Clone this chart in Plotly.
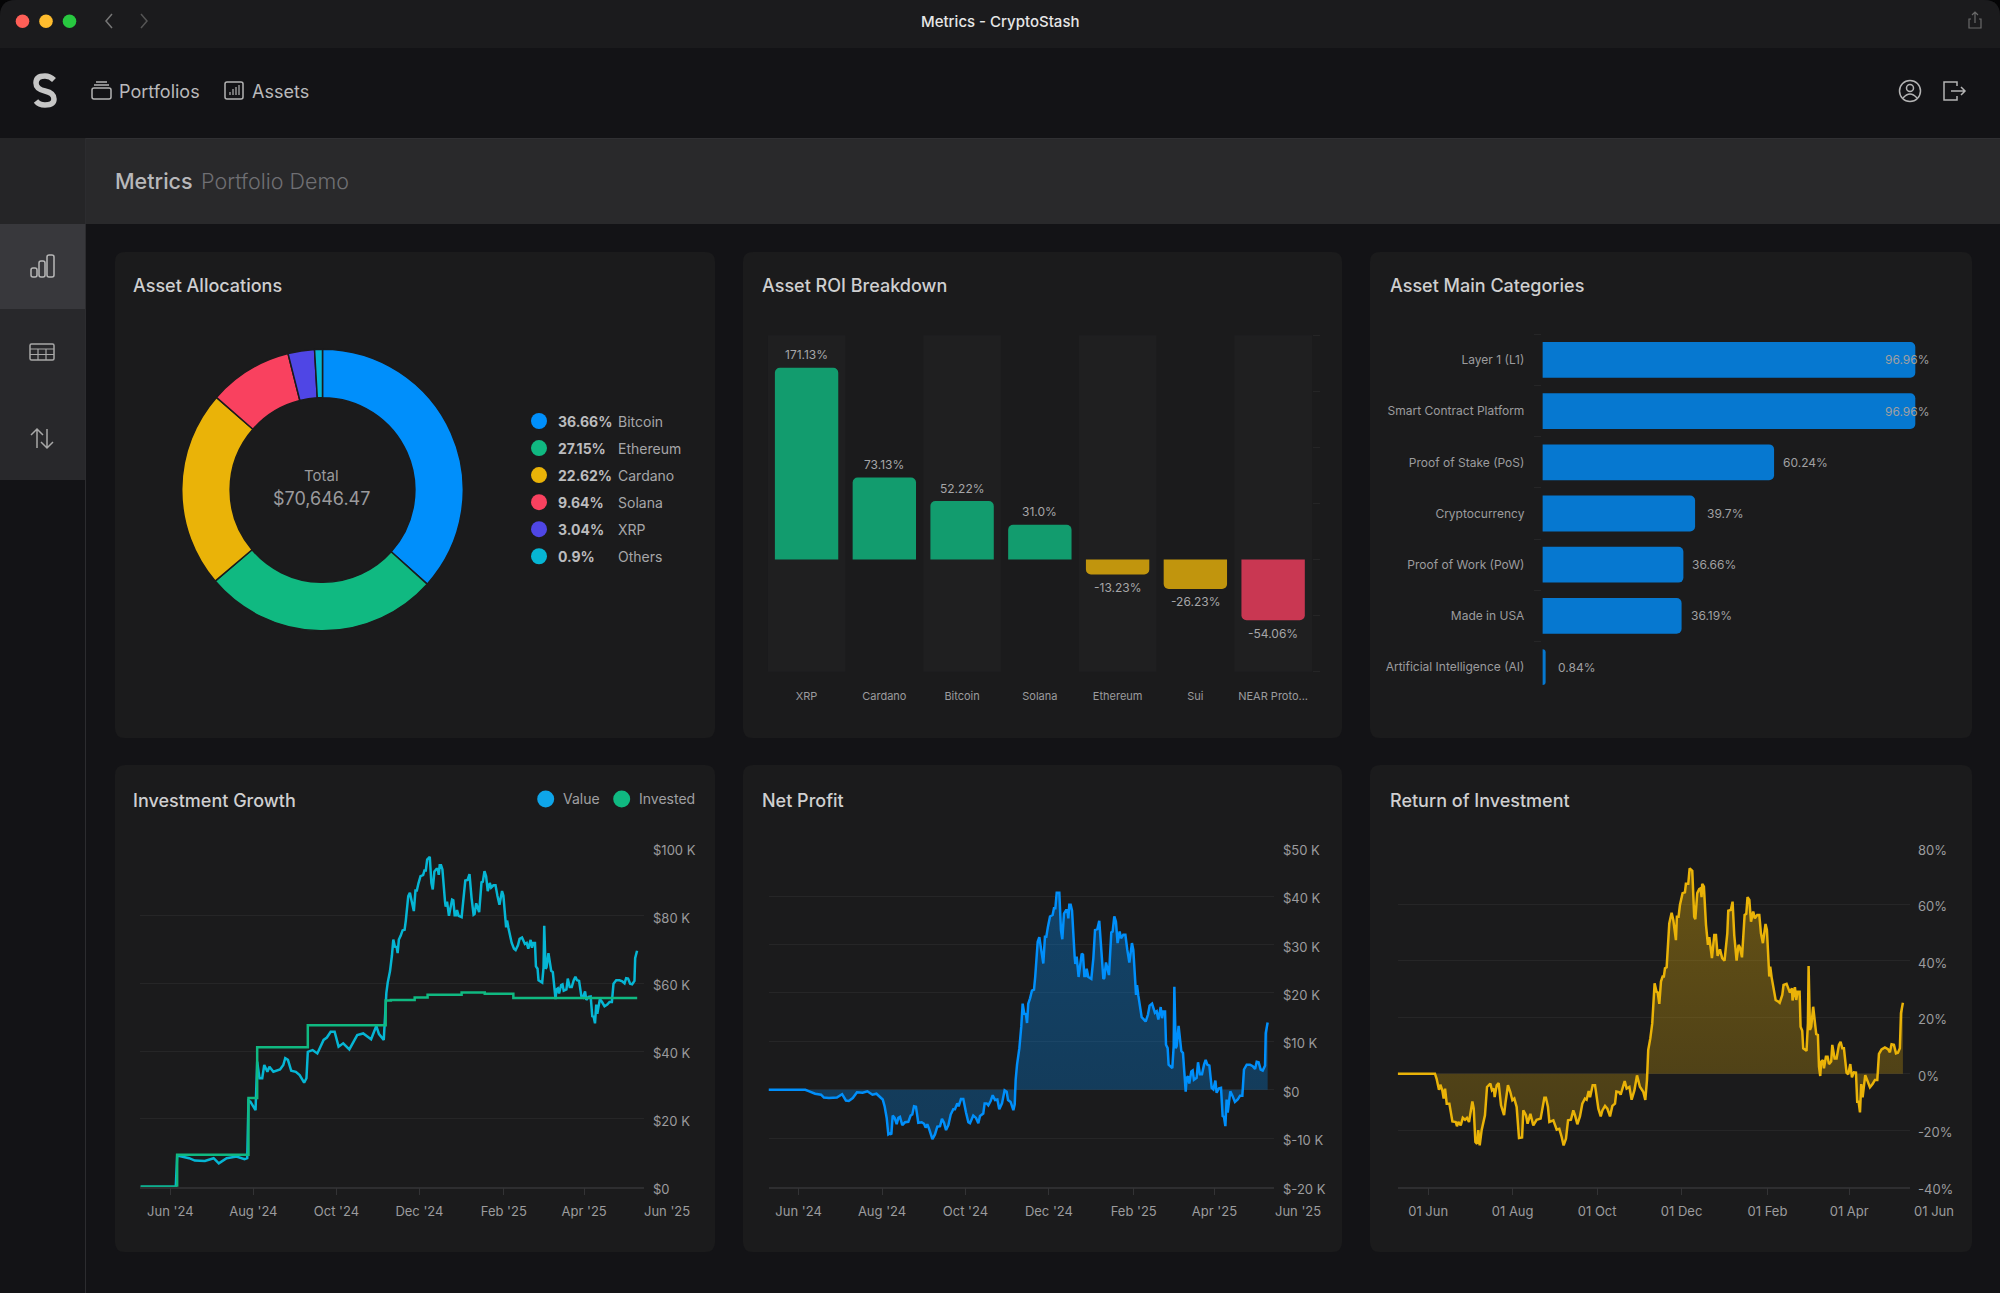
import pandas as pd
import plotly.graph_objects as go

W, H = 2000, 1293
FONT = "Inter"
START = pd.Timestamp("2024-05-10")

# allocations
alloc_names = ["Bitcoin", "Ethereum", "Cardano", "Solana", "XRP", "Others"]
alloc_pct = [36.66, 27.15, 22.62, 9.64, 3.04, 0.9]
alloc_labels = ["36.66%", "27.15%", "22.62%", "9.64%", "3.04%", "0.9%"]
alloc_colors = ["#008ffb", "#10b981", "#eab308", "#f9415f", "#4f46e5", "#06b6d4"]

# roi per asset
roi_names = ["XRP", "Cardano", "Bitcoin", "Solana", "Ethereum", "Sui", "NEAR Proto..."]
roi_values = [171.13, 73.13, 52.22, 31.0, -13.23, -26.23, -54.06]
roi_labels = ["171.13%", "73.13%", "52.22%", "31.0%", "-13.23%", "-26.23%", "-54.06%"]
roi_colors = ["#129c6e", "#129c6e", "#129c6e", "#129c6e", "#c1950d", "#c1950d", "#c93752"]

# categories
cat_names = ["Layer 1 (L1)", "Smart Contract Platform", "Proof of Stake (PoS)", "Cryptocurrency",
             "Proof of Work (PoW)", "Made in USA", "Artificial Intelligence (AI)"]
cat_values = [96.96, 96.96, 60.24, 39.7, 36.66, 36.19, 0.84]
cat_labels = ["96.96%", "96.96%", "60.24%", "39.7%", "36.66%", "36.19%", "0.84%"]

# (days since START, thousands of dollars)
invested_points = [(0, 0), (27, 9.4), (79.4, 26.2), (85.8, 41.1), (123, 47.6), (180.2, 54.9), (184, 55.1),
                   (201.5, 55.8), (211, 56.6), (236, 57.3), (253, 56.9), (274, 55.7), (365, 55.7)]

value_points = [
    (0, 0), (26, 0), (27, 9.2), (35.8, 8.4), (40, 7.7), (47.4, 7.6), (53.8, 8.4), (57.6, 6.9), (63.4, 8.4),
    (70.6, 8.9), (76.5, 8.1), (78.5, 8.4), (79.4, 25.4), (80.8, 25.1), (84.6, 22.6), (85.8, 36.9), (87.5, 32),
    (89.5, 32), (91, 35.9), (93.3, 33.9), (94.8, 35.4), (97.7, 33.9), (102.6, 34.6), (105, 35.9), (106.4, 37.9),
    (108.4, 37.4), (110.8, 34.2), (114.2, 33.9), (117, 32.9), (120.3, 30.7), (122, 32), (123, 39.8), (126.5, 40.3),
    (130, 39.3), (134.6, 43.3), (137, 44), (139.8, 45.7), (142.7, 45.7), (145.6, 41.3), (149, 42.3), (153.5, 40.5),
    (157, 42.8), (159.3, 44.7), (163.7, 45.2), (169.5, 43.5), (173.3, 47.4), (175.3, 45), (178.8, 43.3),
    (180.7, 57.1), (181.7, 60.2), (183.4, 63.6), (184.8, 68.2), (185.8, 72.9), (187, 70.8), (188.2, 70.7),
    (189, 68.9), (189.9, 72.9), (191.2, 74), (192.6, 75.6), (194.1, 75.8), (195, 78.5), (196.8, 85.7), (198, 86.7),
    (199.2, 84.4), (200.4, 81.7), (200.9, 81.3), (202.1, 87.4), (203.1, 87.4), (204.3, 89.5), (205.8, 91.6),
    (207.7, 91.9), (208.7, 93.3), (209.7, 93.3), (210.7, 96.5), (212.6, 97.3), (213.8, 89.6), (214.8, 87.7),
    (216, 93), (217.5, 93.7), (218.5, 93.7), (219.2, 92), (219.9, 94.8), (220.9, 94.8), (221.9, 93.6), (223.8, 84.1),
    (224.3, 82.6), (225.3, 84.1), (226.7, 79.9), (229, 84.7), (229.9, 84.5), (230.9, 80.1), (231.9, 80.1),
    (232.6, 81.6), (233.8, 79.9), (236, 79.5), (237.5, 84.5), (238.7, 90.3), (240.4, 90.5), (241.8, 92.2),
    (243.3, 85.2), (244.8, 80.2), (245.5, 80.4), (246.7, 83.6), (248.9, 81), (250.6, 89.8), (251.6, 90), (252.8, 93.1),
    (254, 91.6), (255.2, 87.2), (256.7, 89.6), (257.7, 88.2), (259.4, 88.9), (260.9, 88.9), (262.3, 85.8),
    (263.8, 83.2), (265.7, 87.2), (266.7, 85.8), (268.7, 76.5), (269.4, 78.5), (270.4, 76.3), (271.1, 74.8),
    (272.8, 71.9), (274.5, 70.2), (275.7, 69.8), (277.4, 71.2), (278.6, 73.1), (280.4, 73.5), (281.3, 72.6),
    (282.5, 71.6), (283.8, 71.9), (285, 70.2), (286.7, 72.8), (287.7, 70.5), (288.6, 71.9), (289.9, 71.9), (290.6, 65),
    (291.8, 64.3), (292.5, 60.9), (294, 60.4), (295.2, 60.2), (296.2, 64.7), (296.7, 77), (297.7, 64.3), (298.4, 64.7),
    (299.8, 68.9), (300.8, 66.7), (301.8, 63.7), (303, 63.3), (304, 58.5), (305, 55.3), (305.7, 58.2), (306.7, 58.5),
    (307.6, 57), (309.1, 59.5), (310.1, 59.7), (311, 57.8), (313, 58.2), (314, 61.4), (315.4, 58.9), (316.9, 58.9),
    (318.4, 60.9), (319.6, 61.9), (320.8, 60.9), (322.3, 60.7), (324, 56.1), (325.2, 55.8), (326.7, 57.6), (327.6, 55.1),
    (329.3, 56), (330.8, 56.1), (332, 50.3), (333, 50.1), (334, 48.2), (334.9, 53.7), (335.7, 51), (337.6, 55.4),
    (339.3, 54.4), (341, 53.2), (343, 53.7), (344.7, 54.5), (346.4, 54.5), (347.6, 59.9), (349.6, 60.9), (352, 60.9),
    (354, 60.6), (355.7, 60), (356.9, 61.5), (358.3, 61.4), (359.8, 59.9), (361.3, 59.7), (363, 60.7), (363.5, 67.4),
    (364.9, 69.6),
]

profit_points = [
    (0, 0), (26.9, 0), (29.8, -0.3), (34.1, -0.8), (38.4, -1), (40.5, -1.6), (44.2, -1.7), (50, -1.6), (53.8, -0.9),
    (56.6, -2.2), (58.7, -2.3), (61.6, -1.7), (64.7, -0.5), (68.8, -0.6), (72.3, -0.3), (76, -1), (78.9, -0.8),
    (81.5, -1.4), (83.5, -2), (84.9, -3.4), (86.4, -5.8), (87.6, -9.2), (88.8, -9), (89.8, -9.2), (90.8, -5.3),
    (92.2, -5.8), (93.7, -7.1), (94.9, -5.8), (96.1, -5.6), (97.8, -7.3), (99.8, -6.7), (102.2, -6.6), (103.9, -5.3),
    (105.1, -5.1), (106.4, -3.4), (107.8, -3.5), (109.5, -6.8), (112, -6.7), (113.7, -7), (114.9, -7.8), (116.1, -7.1),
    (117.6, -8.2), (119.8, -10.2), (121.7, -9.2), (123.4, -7.6), (125.4, -7.5), (126.8, -6), (128.3, -6.8), (129.8, -8.3),
    (131.5, -7.3), (133.2, -5.1), (135.1, -4), (136.3, -4), (138, -2.8), (139, -3.4), (140.7, -1.9), (142.4, -1.9),
    (144.4, -4.7), (146.1, -6.7), (147.3, -6.9), (149.7, -5.3), (151.7, -5.8), (153.4, -6.9), (154.6, -5.4), (157, -4.9),
    (158, -2.8), (159.5, -2.8), (160.7, -3.2), (162.4, -2.3), (163.9, -1.1), (165.6, -2.1), (167.3, -2), (168.7, -4),
    (170.7, -2.8), (172.6, -0.1), (174.1, -0.4), (175.1, -2.1), (177, -2.5), (179, -4.2), (180, -3), (180.7, 2.1),
    (181.7, 5.2), (183.4, 8.6), (184.8, 13.1), (185.8, 17.8), (187, 15.7), (188.2, 15.6), (189, 13.8), (189.9, 17.8),
    (191.2, 18.9), (192.6, 20.5), (194.1, 20.7), (195, 23.4), (196.8, 30.6), (198, 31.5), (199.2, 29.2), (200.4, 26.5),
    (200.9, 26.1), (202.1, 31.6), (203.1, 31.6), (204.3, 33.7), (205.8, 35.8), (207.7, 36.1), (208.7, 37.5), (209.7, 37.5),
    (210.7, 40.7), (212.6, 40.7), (213.8, 33), (214.8, 31.1), (216, 36.4), (217.5, 37.1), (218.5, 37.1), (219.2, 35.4),
    (219.9, 38.2), (220.9, 38.2), (221.9, 37), (223.8, 27.5), (224.3, 26), (225.3, 27.5), (226.7, 23.3), (229, 28.1),
    (229.9, 27.9), (230.9, 23.5), (231.9, 23.5), (232.6, 25), (233.8, 23.3), (236, 22.9), (237.5, 27.2), (238.7, 33),
    (240.4, 33.2), (241.8, 34.9), (243.3, 27.9), (244.8, 22.9), (245.5, 23.1), (246.7, 26.3), (248.9, 23.7), (250.6, 32.5),
    (251.6, 32.7), (252.8, 35.8), (254, 34.7), (255.2, 30.3), (256.7, 32.7), (257.7, 31.3), (259.4, 32), (260.9, 32),
    (262.3, 28.9), (263.8, 26.3), (265.7, 30.3), (266.7, 28.9), (268.7, 19.6), (269.4, 21.6), (270.4, 19.4), (271.1, 17.9),
    (272.8, 15), (274.5, 14.5), (275.7, 14.1), (277.4, 15.5), (278.6, 17.4), (280.4, 17.8), (281.3, 16.9), (282.5, 15.9),
    (283.8, 16.2), (285, 14.5), (286.7, 17.1), (287.7, 14.8), (288.6, 16.2), (289.9, 16.2), (290.6, 9.3), (291.8, 8.6),
    (292.5, 5.2), (294, 4.7), (295.2, 4.5), (296.2, 9), (296.7, 21.3), (297.7, 8.6), (298.4, 9), (299.8, 13.2), (300.8, 11),
    (301.8, 8), (303, 7.6), (304, 2.8), (305, -0.4), (305.7, 2.5), (306.7, 2.8), (307.6, 1.3), (309.1, 3.8), (310.1, 4),
    (311, 2.1), (313, 2.5), (314, 5.7), (315.4, 3.2), (316.9, 3.2), (318.4, 5.2), (319.6, 6.2), (320.8, 5.2), (322.3, 5),
    (324, 0.4), (325.2, 0.1), (326.7, 1.9), (327.6, -0.6), (329.3, 0.3), (330.8, 0.4), (332, -5.4), (333, -5.6), (334, -7.5),
    (334.9, -2), (335.7, -4.7), (337.6, -0.3), (339.3, -1.3), (341, -2.5), (343, -2), (344.7, -1.2), (346.4, -1.2),
    (347.6, 4.2), (349.6, 5.2), (352, 5.2), (354, 4.9), (355.7, 4.3), (356.9, 5.8), (358.3, 5.7), (359.8, 4.2), (361.3, 4),
    (363, 5), (363.5, 11.7), (364.9, 13.9),
]

# (days since START, percent)
return_points = [
    (0, 0), (26.9, 0), (28.1, -1.8), (29.8, -5.7), (30.8, -3.9), (32.2, -5.9), (33.2, -8.8), (34.2, -5.3), (35.4, -10.6),
    (37.3, -10.6), (39.5, -16.9), (41.9, -17.1), (42.8, -18.6), (43.8, -17.1), (45.5, -18.3), (47, -15.6), (48.6, -16.3),
    (50, -15.6), (51.5, -17.1), (53.9, -9.8), (54.9, -12.4), (56.1, -24.2), (57.3, -24.8), (58.2, -20), (59.2, -25.4),
    (60.6, -20), (63, -14.7), (64.5, -4.7), (66.9, -3.5), (68.1, -5.9), (69.5, -5.3), (70, -8.3), (71.5, -4.1), (72.9, -3.3),
    (74.6, -11.2), (76.8, -14.7), (77.9, -10), (79.6, -4.1), (81.3, -6.5), (82.8, -9.4), (84.2, -8.8), (85.9, -11.8),
    (87.6, -22.8), (89.8, -22.6), (90.7, -13), (92.6, -14.7), (93.8, -17.7), (95.8, -14.2), (97.9, -18.3), (100.3, -16.3),
    (103.2, -15.9), (104.2, -13), (105.9, -8.5), (107, -8.5), (108.5, -11.8), (109.5, -17.1), (112.4, -16.5), (114.8, -19.8),
    (116.7, -19.5), (118.4, -22.4), (119.8, -25.4), (121.5, -23), (123, -16.5), (125.1, -16.3), (126.8, -13), (128, -14.7),
    (129.7, -17.9), (131.6, -15.1), (133.3, -10.6), (135.2, -8.8), (136.4, -9.2), (137.9, -6.1), (138.9, -8.3), (140.8, -4.1),
    (142.5, -4.1), (144.9, -12.4), (146.6, -15.1), (147.8, -13), (149.7, -11.4), (151.4, -12.4), (153.3, -15.1), (155, -11.4),
    (156.9, -10.6), (157.9, -6.3), (159.8, -6.5), (161, -7.4), (162.2, -5.3), (163.9, -2.6), (165.3, -5.3), (167.3, -4.7),
    (168.9, -9.2), (170.9, -5.9), (172.8, -0.6), (174.9, -4.6), (177.3, -6.4), (178.8, -9.3), (180, -2.2), (180.9, 8.4),
    (182.4, 12.5), (183.8, 17.8), (185.5, 32), (186.9, 29), (187.7, 28.8), (188.9, 24.7), (190.1, 32.6), (191.3, 34.4),
    (192.2, 34.4), (193, 37.3), (194.2, 37.7), (195.1, 43.8), (196.1, 53.2), (197.8, 57), (199, 54.4), (200.9, 47.3),
    (201.6, 55.6), (202.8, 55.6), (203.8, 59.7), (205.7, 63.9), (207.4, 64.2), (208.1, 67.2), (209.8, 67.2), (210.8, 72.7),
    (212.7, 71.8), (214.1, 55.6), (214.9, 54.7), (216.3, 63.9), (217.7, 65.3), (218.7, 65.6), (219.4, 62.5), (219.9, 67.2),
    (221.1, 66.2), (222.6, 52.7), (224, 45.6), (225, 48.3), (226.9, 40.9), (228.6, 49.1), (229.8, 49.1), (231, 41.7),
    (232.7, 44), (234.3, 40.9), (236, 40), (238, 49.7), (238.7, 57.7), (240.6, 58), (241.8, 60.9), (243, 49.1), (244.7, 40),
    (246.1, 45.6), (247.1, 44.7), (248.6, 41.2), (250.5, 56.2), (251.7, 56.6), (252.6, 62.5), (253.9, 61.5), (255.1, 53.8),
    (256.7, 57.4), (257.9, 55), (259.6, 56.2), (261.1, 56.2), (262.3, 49.7), (263.7, 46.2), (265.6, 53), (266.6, 50.9),
    (268.3, 34.4), (269, 37.9), (270, 34.1), (271.2, 30.8), (272.9, 26.1), (274.3, 25.7), (275.8, 25.1), (277.7, 27.9),
    (278.6, 31.4), (280.8, 31.8), (282, 30.2), (283.2, 28.7), (284.7, 30.2), (285.1, 25.9), (286.8, 30.6), (287.8, 26.1),
    (288.7, 29), (290.2, 29), (290.9, 16.6), (292.1, 15.2), (292.8, 9), (294.3, 8.4), (295.2, 8.1), (296.2, 17.8), (296.7, 38.1),
    (297.7, 15.5), (298.6, 16.6), (300, 23.7), (301.3, 19), (302.2, 14), (303.4, 13.7), (304.2, 2.5), (305.1, -0.8), (305.8, 4.3),
    (307, 4.8), (307.8, 1.9), (309.2, 6), (310.4, 6), (311.4, 3.4), (313, 4.3), (313.8, 10.2), (315.5, 5.4), (316.9, 5.4),
    (318.6, 10.2), (319.8, 11.3), (321, 9), (322.2, 9), (324.1, 0.4), (325.3, -0.2), (326.8, 3.4), (328, -1.3), (329.4, 0.5),
    (330.9, 0.4), (331.8, -9.9), (332.8, -9.9), (333.8, -13.7), (334.7, -3.7), (335.7, -8.4), (337.6, -0.5), (339.3, -2.8),
    (341, -4.8), (342.9, -3.7), (344.6, -2.2), (346.3, -2.2), (347.5, 7), (349.4, 8.6), (351.8, 9.3), (354, 8.7), (355.4, 7.6),
    (356.6, 10.4), (358.3, 10.2), (359.8, 7.2), (361.2, 7.4), (362.6, 9), (363.4, 21.4), (364.8, 25.1),
]

month_dates = ["2024-06-01", "2024-08-01", "2024-10-01", "2024-12-01", "2025-02-01", "2025-04-01"]
month_ticks = ["Jun '24", "Aug '24", "Oct '24", "Dec '24", "Feb '25", "Apr '25"]
roi_month_ticks = ["01 Jun", "01 Aug", "01 Oct", "01 Dec", "01 Feb", "01 Apr"]
growth_ticks = [0, 20, 40, 60, 80, 100]
growth_tick_text = ["$0", "$20 K", "$40 K", "$60 K", "$80 K", "$100 K"]
profit_ticks = [-20, -10, 0, 10, 20, 30, 40, 50]
profit_tick_text = ["$-20 K", "$-10 K", "$0", "$10 K", "$20 K", "$30 K", "$40 K", "$50 K"]
return_ticks = [-40, -20, 0, 20, 40, 60, 80]
return_tick_text = ["-40%", "-20%", "0%", "20%", "40%", "60%", "80%"]


def to_dates(points):
    days = [p[0] for p in points]
    return START + pd.to_timedelta(days, unit="D")


def ys(points):
    return [p[1] for p in points]


def dom_x(a, b):
    return [a / W, b / W]


def dom_y(top, bottom):
    return [1 - bottom / H, 1 - top / H]


def to_paper(d):
    out, is_x = [], True
    for tok in d.split():
        if tok.isalpha():
            out.append(tok)
            is_x = True
        else:
            v = float(tok)
            out.append(str(v / W) if is_x else str(1 - v / H))
            is_x = not is_x
    return " ".join(out)


shapes = []
annotations = []


def path(d, color="rgba(0,0,0,0)", line=None, width=1.5):
    shapes.append(dict(type="path", xref="paper", yref="paper", path=to_paper(d), fillcolor=color, layer="below",
                       line=dict(color=line or "rgba(0,0,0,0)", width=width if line else 0)))


def rrect(x0, y0, x1, y1, r, color="rgba(0,0,0,0)", line=None, width=1.5):
    d = (f"M {x0 + r} {y0} L {x1 - r} {y0} Q {x1} {y0} {x1} {y0 + r} L {x1} {y1 - r} Q {x1} {y1} {x1 - r} {y1} "
         f"L {x0 + r} {y1} Q {x0} {y1} {x0} {y1 - r} L {x0} {y0 + r} Q {x0} {y0} {x0 + r} {y0} Z")
    path(d, color, line, width)


def rect(x0, y0, x1, y1, color):
    shapes.append(dict(type="rect", xref="paper", yref="paper", x0=x0 / W, x1=x1 / W, y0=1 - y1 / H, y1=1 - y0 / H,
                       fillcolor=color, line_width=0, layer="below"))


def dot(cx, cy, r, color="rgba(0,0,0,0)", line=None, width=1.5):
    shapes.append(dict(type="circle", xref="paper", yref="paper", x0=(cx - r) / W, x1=(cx + r) / W,
                       y0=1 - (cy + r) / H, y1=1 - (cy - r) / H, fillcolor=color, layer="below",
                       line=dict(color=line or "rgba(0,0,0,0)", width=width if line else 0)))


def text(x, y, s, size=14, color="#a3a3a6", anchor="left", weight=400):
    annotations.append(dict(xref="paper", yref="paper", x=x / W, y=1 - y / H, text=s, showarrow=False, xanchor=anchor,
                            yanchor="middle", borderpad=0,
                            font=dict(family=FONT, size=size, color=color, weight=weight)))


# window chrome
rrect(0, 0, 2000, 1340, 16, "#131316")
path("M 0 48 L 0 16 Q 0 0 16 0 L 1984 0 Q 2000 0 2000 16 L 2000 48 Z", "#1b1b1d")
rect(0, 138, 2000, 224, "#29292b")
rect(86, 138, 2000, 139, "#303033")
rect(0, 138, 86, 224, "#252527")
rect(0, 224, 86, 309, "#38383c")
rect(0, 309, 86, 480, "#28282b")
rect(85, 138, 86, 1293, "#2c2c2f")
dot(22.5, 21.3, 6.8, "#ff5f57")
dot(46, 21.3, 6.8, "#febc2e")
dot(69.5, 21.3, 6.8, "#28c840")
path("M 112 14 L 106 21 L 112 28", line="#777", width=1.5)
path("M 141 14 L 147 21 L 141 28", line="#555", width=1.5)
text(1000, 21.5, "Metrics - CryptoStash", 15, "#e6e6e6", "center", 500)
path("M 1971 19 L 1969 19 L 1969 28 L 1981 28 L 1981 19 L 1979 19 M 1975 23 L 1975 12 M 1972 15 L 1975 12 L 1978 15", line="#6a6a6a", width=1.2)

# nav
path("M 54 80 Q 50 76 45 76 Q 36 76 36 83 Q 36 89 45 91 Q 54 93 54 99 Q 54 105 45 105 Q 39 105 36 101", line="#c6c6c6", width=5.5)
rrect(92, 88, 111, 99, 2, line="#b4b4b4")
path("M 94 85 L 109 85 M 96 82 L 107 82", line="#b4b4b4")
text(118, 91.5, "Portfolios", 18, "#b9b9bb")
rrect(225, 82, 243, 99, 2, line="#b4b4b4")
path("M 230 95 L 230 92 M 233 95 L 233 89 M 236 95 L 236 87 M 239 95 L 239 85", line="#b4b4b4", width=1.2)
text(251, 91.5, "Assets", 18, "#b9b9bb")
dot(1910, 91, 10.5, line="#b4b4b4")
dot(1910, 88, 3.5, line="#b4b4b4")
path("M 1903 98 Q 1910 90 1917 98", line="#b4b4b4")
path("M 1957 86 L 1957 82 L 1944 82 L 1944 100 L 1957 100 L 1957 96 M 1951 91 L 1965 91 M 1961 87 L 1965 91 L 1961 95", line="#b4b4b4")

# header
text(113.5, 181, "Metrics", 21.5, "#b8b8ba", weight=500)
text(199.5, 181, "Portfolio Demo", 21.5, "#6f6f73", weight=300)

# sidebar icons
rrect(31, 268, 37, 277, 2, line="#b8b8b8")
rrect(39, 261, 45, 277, 2, line="#b8b8b8")
rrect(47, 255, 54, 277, 2, line="#b8b8b8")
rrect(30, 344, 54, 360, 1.5, line="#a8a8a8")
path("M 30 349 L 54 349 M 30 354.5 L 54 354.5 M 38 349 L 38 360 M 46 349 L 46 360", line="#a8a8a8", width=1.2)
path("M 37 448 L 37 429 M 31 435 L 37 429 L 43 435 M 47 429 L 47 448 M 41 442 L 47 448 L 53 442", line="#a8a8a8")

# panels
PANEL = "#1b1b1c"
for x0, x1 in [(115, 715), (743, 1342), (1370, 1972)]:
    rrect(x0, 252, x1, 738, 10, PANEL)
    rrect(x0, 765, x1, 1252, 10, PANEL)

TITLE = "#cfcfd0"
text(132, 285, "Asset Allocations", 18, TITLE, weight=500)
text(761, 285, "Asset ROI Breakdown", 18, TITLE, weight=500)
text(1389, 285, "Asset Main Categories", 18, TITLE, weight=500)
text(132, 800.5, "Investment Growth", 18, TITLE, weight=500)
text(761, 800.5, "Net Profit", 18, TITLE, weight=500)
text(1389, 800.5, "Return of Investment", 18, TITLE, weight=500)

# donut center and legend
text(321, 475, "Total", 15, "#9a9a9c", "center")
text(321, 498.5, "$70,646.47", 18, "#9a9a9c", "center")
for i in range(len(alloc_names)):
    ly = 421 + i * 27.05
    dot(539, ly, 8, alloc_colors[i])
    text(557, ly, alloc_labels[i], 14, "#bcbcbe", weight=700)
    text(617, ly, alloc_names[i], 14, "#a6a6a8")

# growth legend
dot(545.7, 799, 8.5, "#0ea5e9")
text(562, 799, "Value", 14, "#a0a0a2")
dot(621.7, 799, 8.5, "#10b981")
text(637.5, 799, "Invested", 14, "#a0a0a2")

# the last month label sits past the end of the axis
text(667, 1211, "Jun '25", 13, "#9b9b9e", "center")
text(1297.5, 1211, "Jun '25", 13, "#9b9b9e", "center")
text(1933.5, 1211, "01 Jun", 13, "#9b9b9e", "center")

fig = go.Figure()

fig.add_trace(go.Pie(values=alloc_pct, labels=alloc_names, hole=0.656, sort=False, direction="clockwise", rotation=0,
                     textinfo="none", showlegend=False, marker=dict(colors=alloc_colors, line=dict(color="#1b1b1c", width=1.5)),
                     domain=dict(x=dom_x(322.5 - 140.8, 322.5 + 140.8), y=dom_y(490 - 140.8, 490 + 140.8))))

fig.add_trace(go.Bar(x=roi_names, y=roi_values, marker=dict(color=roi_colors, line_width=0), xaxis="x2", yaxis="y2",
                     width=0.815, showlegend=False))
fig.add_trace(go.Bar(y=cat_names, x=cat_values, orientation="h", marker=dict(color="#0678d0", line_width=0),
                     xaxis="x3", yaxis="y3", width=0.70, showlegend=False))

fig.add_trace(go.Scatter(x=to_dates(value_points), y=ys(value_points), mode="lines", xaxis="x4", yaxis="y4",
                         line=dict(color="#06b6d4", width=2.5), showlegend=False))
fig.add_trace(go.Scatter(x=to_dates(invested_points), y=ys(invested_points), mode="lines", xaxis="x4", yaxis="y4",
                         line=dict(color="#10b981", width=2.5, shape="hv"), showlegend=False))
fig.add_trace(go.Scatter(x=to_dates(profit_points), y=ys(profit_points), mode="lines", xaxis="x5", yaxis="y5",
                         line=dict(color="#008ffb", width=2.5), fill="tozeroy", showlegend=False,
                         fillgradient=dict(type="vertical", start=41, stop=-10,
                                           colorscale=[[0, "rgba(0,143,251,0.34)"], [1, "rgba(0,143,251,0.27)"]])))
fig.add_trace(go.Scatter(x=to_dates(return_points), y=ys(return_points), mode="lines", xaxis="x6", yaxis="y6",
                         line=dict(color="#eab308", width=2.5), fill="tozeroy", showlegend=False,
                         fillgradient=dict(type="vertical", start=72, stop=-25,
                                           colorscale=[[0, "rgba(234,179,8,0.36)"], [1, "rgba(234,179,8,0.22)"]])))

TICK = dict(family=FONT, size=13, color="#9b9b9e")


def time_axis(x0, x1, anchor, labels, end):
    return dict(domain=dom_x(x0, x1), anchor=anchor, range=[START, START + pd.Timedelta(days=end)], tickmode="array",
                tickvals=month_dates, ticktext=labels, ticks="outside", ticklen=7, tickcolor="#333335", showgrid=False,
                showline=True, linecolor="#2e2e30", linewidth=1.5, zeroline=False, tickfont=TICK, ticklabelstandoff=5,
                fixedrange=True)


def value_axis(anchor, lo, hi, vals):
    return dict(domain=dom_y(847.7, 1186.7), anchor=anchor, side="right", range=[lo, hi], tickmode="array", tickvals=vals,
                showticklabels=False, showgrid=True, gridcolor="#262627", gridwidth=1, zeroline=False, ticks="",
                showline=False, fixedrange=True)


# y labels sit a little under their gridlines, so they are placed as text
for yref, left, vals, labels in [("y4", 650.5, growth_ticks, growth_tick_text),
                                 ("y5", 1280.5, profit_ticks, profit_tick_text),
                                 ("y6", 1916, return_ticks, return_tick_text)]:
    for v, lab in zip(vals, labels):
        annotations.append(dict(xref="paper", yref=yref, x=left / W, y=v, yshift=-2, xanchor="left", text=lab,
                                showarrow=False, font=TICK))

# alternating stripes behind the ROI columns
for i in range(0, len(roi_names), 2):
    shapes.append(dict(type="rect", xref="x2", yref="y2 domain", x0=i - 0.5, x1=i + 0.5, y0=0, y1=1, fillcolor="#1f1f20",
                       line_width=0, layer="below"))

# value labels next to the bars
for name, val, lab in zip(roi_names, roi_values, roi_labels):
    annotations.append(dict(xref="x2", yref="y2", x=name, y=val, yshift=13 if val > 0 else -13, text=lab, showarrow=False,
                            font=dict(family=FONT, size=12, color="#a6a6a8")))
for name, val, lab in zip(cat_names, cat_values, cat_labels):
    annotations.append(dict(xref="x3", yref="y3", x=val, y=name, xshift=-32 if val > 90 else (10 if val < 1 or lab == "39.7%" else 7),
                            yshift=0, xanchor="left", text=lab, showarrow=False,
                            font=dict(family=FONT, size=12, color="#a0a0a2")))

fig.update_layout(
    width=W, height=H, margin=dict(l=0, r=0, t=0, b=0, pad=0, autoexpand=False), paper_bgcolor="#050506",
    plot_bgcolor="rgba(0,0,0,0)", font=dict(family=FONT), barmode="overlay", barcornerradius=5, shapes=shapes,
    annotations=annotations,
    xaxis2=dict(domain=dom_x(767.7, 1312), anchor="y2", range=[-0.5, 6.5], tickfont=dict(family=FONT, size=11, color="#9b9b9e"),
                showgrid=False, zeroline=False, showline=False, ticks="", ticklabelstandoff=16, fixedrange=True, tickangle=0),
    yaxis2=dict(domain=dom_y(335.3, 671.7), anchor="x2", side="right", range=[-100, 200], dtick=50, showticklabels=False,
                ticks="outside", ticklen=7, tickcolor="#252526", showgrid=False, zeroline=False, showline=False, fixedrange=True),
    xaxis3=dict(domain=dom_x(1542.4, 1927), anchor="y3", range=[0, 100], visible=False, fixedrange=True),
    yaxis3=dict(domain=dom_y(334.3, 692.7), anchor="x3", autorange="reversed", tickfont=dict(family=FONT, size=12, color="#9b9b9e"),
                ticks="outside", ticklen=7, tickcolor="#262627", tickson="boundaries", ticklabelstandoff=17,
                showgrid=False, zeroline=False, showline=False, fixedrange=True),
    xaxis4=time_axis(140.4, 644, "y4", month_ticks, 370),
    yaxis4=value_axis("x4", 0, 100, growth_ticks),
    xaxis5=time_axis(768.5, 1273.8, "y5", month_ticks, 369.4),
    yaxis5=value_axis("x5", -20, 50, profit_ticks),
    xaxis6=time_axis(1397.7, 1909.7, "y6", roi_month_ticks, 369.7),
    yaxis6=value_axis("x6", -40, 80, return_ticks),
)

fig.write_html("out.html", config={"displayModeBar": False},
               post_script="document.body.style.margin='0';document.documentElement.style.overflow='hidden';document.documentElement.style.background='#050506';")
